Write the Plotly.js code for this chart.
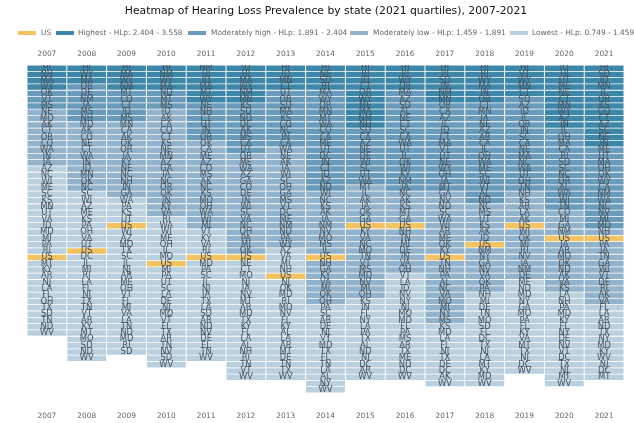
<!DOCTYPE html>
<html><head><meta charset="utf-8">
<script src="https://cdn.plot.ly/plotly-3.0.1.min.js"></script>
<style>html,body{margin:0;padding:0;background:#fff}#c{width:634px;height:423px;filter:blur(0.4px)}</style>
</head><body><div id="c"></div>
<script>
const years=[2007,2008,2009,2010,2011,2012,2013,2014,2015,2016,2017,2018,2019,2020,2021];
const r2007="HI NH MA WY OK VT MS NE MO AK CT OR CO WA IN IA AZ NC WI ME SC KS MN UT VA ID MD MI PA RI US MT KY AR NJ LA FL OH TX SD TN ND WV".split(" ");
const r2008="HI WY MA OR DE NM IA MS NH MD AK CO NE CT WA IN ID MN OK NC SC WI AZ ME KS PA OH VA UT US DC IL MI RI LA FL NJ TX TN VT AR KY MT MO SD ND WV".split(" ");
const r2009="HI MA WY NM MT CO CT ID MS MN CA AK OK OR IA KY NE NC NH IN GA WA PA KS UT US WI AZ MO TX SC IL NJ AR ME OH VT FL MI VA LA TN ND MD RI SD".split(" ");
const r2010="HI NM WY MA ND MT MS ID AK CA CO CT KS NE MN AZ GA IA NC OR OK IN KY VA RI WA WI ME OH IL MO US MI PA UT SC LA DE NJ MD VT FL TX AR TN NV SD WV".split(" ");
const r2011="NM HI ID MA MT WY NE NH CT UT IN OR OK CA ME AZ CO MS AK NC KS MO OH WA WI MI VT KY VA RI US MD PA SC IL NJ IA TX LA SD AR ND NV DE FL TN WV".split(" ");
const r2012="ID HI MA WY NM MN KS SD ND DC AK MS CA UT OR ME WA AZ GA CO DE IN WI SC VA NC OH PA MI OK US NE CT MO NJ IA NV MT AR MD TX KY FL LA AL NH RI TN VT WV".split(" ");
const r2013="HI ID MN CT UT OR SD MA KS CO NC IN CA WA NE AK IA WI SC OH GA MS VT DC ME NM ND PA WY AZ VA MI NH US NJ OK MD RI MO NV FL KY AL LA AR MT DE TN TX WV".split(" ");
const r2014="HI NE SD RI MA WY OR MN MT WA CO CA ME UT DC IN CT ID AZ ND WI NC KS AK IA NM NV MO MS IL US NH GA KY VA MI OK OH PA SC AR DE NJ VT MD TX FL TN LA AL NY WV".split(" ");
const r2015="HI RI ID CT OR WY ME MA NM NH SD CA AZ NE DE WI SC UT WA MT IL AK IA OK GA US KY VA NC MO TN VT MS MD NV MI OH KS IN FL NY LA PA TX AL ND NJ DC AR WV".split(" ");
const r2016="HI RI WY OR MA AZ SD AL NE CT SC CA WA UT IL OK WI KY NM IA NC AK KS MT GA US NH TN MI DE IN VA OH VT LA ID NV NY NJ MO MD FL PA MS AR TX ME ND DC WV".split(" ");
const r2017="HI RI SD IN NM MN OR CA AZ IL ID CT MA VT UT NE WY OH IA MT GA NV ND SC WA WI AR ME OK KY US TN NH PA AL NC VA MO MI NY MS KS MD LA FL NJ TX DE DC AK WV".split(" ");
const r2018="HI RI WY MA IN OR CT MN IA NE AZ AR CA IL OH WA ME SC WI VT AL ND NC MS UT KS AK ID US NM NY GA NV VA OK PA NH MI DE TN MO SD FL DC TX NJ LA MT KY MD WV".split(" ");
const r2019="HI VT WY MN CT SD AZ ID IL OR IN SC CA NE MA NC WA UT OH TN NH KS AR LA AK US WI OK MI RI NV IA NM DE ME ND MD NY GA MO PA FL KY VA MT TX NJ DC WV".split(" ");
const r2020="ID HI UT ME NE CT MN WY AZ IN IL OH MA CA RI SD SC NC OR AL WA WI TN CO MI GA NM US IA AR MO OK ND AK VA KS LA NH PA MD KY FL NY DE NV VT DC TX NJ MT WV".split(" ");
const r2021="HI SD ID MN IL OR KS CO CT AZ SC NE IN ME UT MA OH OK WY CA NM WA NC NV MI MO NH US PA IA TN GA WI VT DE RI AK VA FL LA AR ND TX NY MD KY WV NJ DC MT".split(" ");
const rankings=[r2007,r2008,r2009,r2010,r2011,r2012,r2013,r2014,r2015,r2016,r2017,r2018,r2019,r2020,r2021];
// last rank of each tier, by year
const lastHighest=[4,3,4,4,6,6,4,4,10,4,6,6,5,10,13];
const lastModHigh=[7,9,9,7,12,14,13,20,19,20,20,22,20,23,26];
const lastModLow=[16,20,21,24,26,31,29,38,37,33,41,36,34,36,38];
const tierNames=["Highest - HLp: 2.404 - 3.558","Moderately high - HLp: 1.891 - 2.404","Moderately low - HLp: 1.459 - 1.891","Lowest - HLp: 0.749 - 1.459"];
const tierColors=["#3f87a9","#6a9bba","#92b3cb","#bbd0de"];
const usColor="#f3c262";
const legendNames=["US"].concat(tierNames);
const legendColors=[usColor].concat(tierColors);
const legendSwatchLeft=[18,56,188,350,510];
const legendTextLeft=[39.5,77,209.5,372,531];

const HALF=0.488;
function tierOf(i,r){
  if(r<=lastHighest[i])return 0;
  if(r<=lastModHigh[i])return 1;
  if(r<=lastModLow[i])return 2;
  return 3;
}
function seg(){return {x:[],y:[]};}
const segs=[seg(),seg(),seg(),seg()],us=seg();
const tx=[],ty=[],tt=[];
years.forEach((yr,i)=>{
  rankings[i].forEach((st,k)=>{
    const r=k+1, s=st==="US"?us:segs[tierOf(i,r)];
    s.x.push(yr-HALF,yr+HALF,null);
    s.y.push(r,r,null);
    tx.push(yr);ty.push(r);tt.push(st);
  });
});
function line(name,s,c){
  return {type:"scatter",mode:"lines",name:name,x:s.x,y:s.y,connectgaps:false,
    line:{color:c,width:5.5,shape:"linear"},hoverinfo:"name"};
}
const traces=[line("US",us,usColor)];
tierNames.forEach((n,i)=>traces.push(line(n,segs[i],tierColors[i])));
traces.push({type:"scatter",mode:"text",x:tx,y:ty,text:tt,showlegend:false,hoverinfo:"skip",
  textposition:"middle center",textfont:{family:"DejaVu Sans",size:8.4,color:"#46535f"}});
traces.push({type:"scatter",mode:"markers",x:years,y:years.map(()=>1),xaxis:"x2",showlegend:false,hoverinfo:"skip",marker:{opacity:0,size:1}});
const tickFont={family:"DejaVu Sans",size:7.4,color:"#666"};
const xcommon={range:[2006.5,2021.5],domain:[27/634,624/634],tickmode:"array",tickvals:years,ticktext:years.map(String),showgrid:false,zeroline:false,showline:false,ticks:"outside",tickcolor:"rgba(0,0,0,0)",tickfont:tickFont};
const H=423,W=634;
const layout={
  width:W,height:H,paper_bgcolor:"#fff",plot_bgcolor:"#fff",
  margin:{l:0,r:0,t:1,b:18,pad:0},
  title:{text:"Heatmap of Hearing Loss Prevalence by state (2021 quartiles), 2007-2021",x:326/634,xanchor:"center",y:0.984,yanchor:"top",font:{family:"DejaVu Sans",size:10.8,color:"#111"}},
  showlegend:false,
  shapes:legendSwatchLeft.map((l,i)=>({type:"rect",xref:"paper",yref:"paper",x0:l/W,x1:(l+18)/W,
     y0:1-(33-1+2)/404,y1:1-(33-1-2)/404,fillcolor:legendColors[i],line:{width:0}})),
  annotations:legendNames.map((n,i)=>({text:n,xref:"paper",yref:"paper",x:legendTextLeft[i]/W,xanchor:"left",
     y:1-(33-1)/404,yanchor:"middle",showarrow:false,font:{family:"DejaVu Sans",size:7.4,color:"#666"},borderpad:0})),
  xaxis:Object.assign({},xcommon,{side:"bottom",anchor:"y",ticklen:3}),
  xaxis2:Object.assign({},xcommon,{side:"top",overlaying:"x",anchor:"y",ticklen:5}),
  yaxis:{range:[54.4,0.5],domain:[0,1-64/404],visible:false,showgrid:false,zeroline:false}
};
Plotly.newPlot("c",traces,layout,{displayModeBar:false,responsive:false});
</script></body></html>
